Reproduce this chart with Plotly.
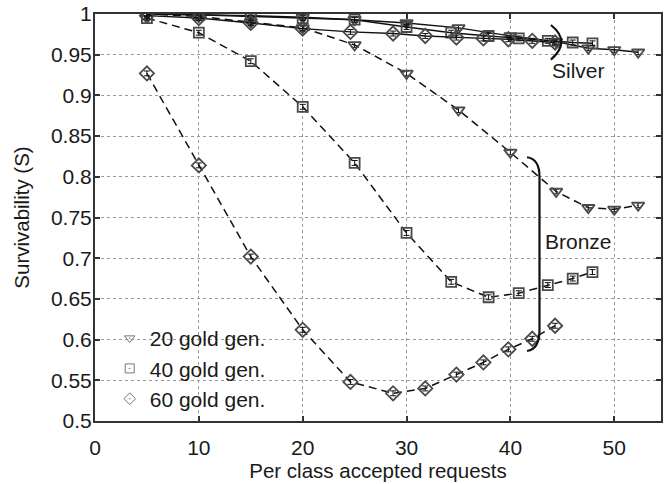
import plotly.graph_objects as go

# ---- data ----
x_20 = [5, 10, 15, 20, 25, 30, 35, 40, 44.4, 47.5, 50, 52.3]
bronze_20 = [1.0, 0.997, 0.99, 0.983, 0.962, 0.927, 0.882, 0.830, 0.782, 0.762, 0.760, 0.765]
silver_20 = [1.0, 0.999, 0.998, 0.996, 0.993, 0.989, 0.983, 0.973, 0.966, 0.958, 0.956, 0.953]

x_40 = [5, 10, 15, 20, 25, 30, 34.3, 37.9, 40.8, 43.6, 46, 47.9]
bronze_40 = [0.995, 0.977, 0.942, 0.886, 0.817, 0.731, 0.671, 0.652, 0.657, 0.667, 0.675, 0.683]
silver_40 = [1.0, 0.999, 0.997, 0.995, 0.993, 0.984, 0.977, 0.973, 0.970, 0.967, 0.965, 0.964]

x_60 = [5, 10, 15, 20, 24.6, 28.7, 31.8, 34.8, 37.4, 39.8, 42.1, 44.3]
bronze_60 = [0.927, 0.814, 0.702, 0.612, 0.548, 0.534, 0.540, 0.557, 0.572, 0.588, 0.601, 0.617]
silver_60 = [0.998, 0.995, 0.989, 0.982, 0.978, 0.976, 0.973, 0.971, 0.970, 0.969, 0.967, 0.965]

err = 0.003

series_names = ["20 gold gen.", "40 gold gen.", "60 gold gen."]
symbols = ["triangle-down-open", "square-open", "diamond-open"]
legend_symbols = ["triangle-down-open-dot", "square-open-dot", "diamond-open-dot"]

x_ticks = [0, 10, 20, 30, 40, 50]
y_ticks = [0.5, 0.55, 0.6, 0.65, 0.7, 0.75, 0.8, 0.85, 0.9, 0.95, 1.0]
y_tick_text = ["0.5", "0.55", "0.6", "0.65", "0.7", "0.75", "0.8", "0.85", "0.9", "0.95", "1"]

FONT = "Liberation Sans, Arial, sans-serif"
MK = "#4a4a4a"
TXT = "#1a1a1a"

fig = go.Figure()

xs = [x_20, x_40, x_60]
bronzes = [bronze_20, bronze_40, bronze_60]
silvers = [silver_20, silver_40, silver_60]
sizes = [11, 10, 11]

for i in range(3):
    # silver (solid)
    fig.add_trace(go.Scatter(
        x=xs[i], y=silvers[i], mode="lines+markers", showlegend=False,
        line=dict(color="#111111", width=1.4),
        marker=dict(symbol=symbols[i], size=sizes[i], color=MK, line=dict(width=1.8, color=MK)),
        error_y=dict(type="constant", value=err, color="#111111", thickness=1, width=3),
    ))
    # bronze (dashed)
    fig.add_trace(go.Scatter(
        x=xs[i], y=bronzes[i], mode="lines+markers", showlegend=False,
        line=dict(color="#111111", width=1.5, dash="8px,5px"),
        marker=dict(symbol=symbols[i], size=sizes[i], color=MK, line=dict(width=1.8, color=MK)),
        error_y=dict(type="constant", value=err, color="#111111", thickness=1, width=3),
    ))

for i in range(3):
    fig.add_trace(go.Scatter(
        x=[None], y=[None], mode="markers", name=series_names[i],
        marker=dict(symbol=legend_symbols[i], size=9, color="#777777", line=dict(width=1, color="#777777")),
    ))

# brackets
fig.add_shape(type="path", xref="x", yref="y",
              path="M 41.6,0.824 Q 42.8,0.822 42.8,0.800 L 42.8,0.612 Q 42.8,0.588 41.6,0.586",
              line=dict(color="#111111", width=2.2))
fig.add_shape(type="path", xref="x", yref="y",
              path="M 43.9,0.9865 Q 45.9,0.966 43.9,0.944",
              line=dict(color="#111111", width=2.2))

fig.add_annotation(x=46.6, y=0.930, xref="x", yref="y", text="Silver", showarrow=False,
                   font=dict(family=FONT, size=21, color=TXT))
fig.add_annotation(x=46.6, y=0.720, xref="x", yref="y", text="Bronze", showarrow=False,
                   font=dict(family=FONT, size=21, color=TXT))

axis_common = dict(
    showline=True, linecolor="#333333", linewidth=2, mirror="ticks",
    ticks="inside", ticklen=5, tickcolor="#333333", tickwidth=1.5,
    showgrid=True, gridcolor="#9a9a9a", griddash="dot", gridwidth=1,
    zeroline=False,
    tickfont=dict(family=FONT, size=21, color=TXT),
)

fig.update_layout(
    width=665, height=484,
    margin=dict(l=95, r=2, t=14, b=63),
    paper_bgcolor="white", plot_bgcolor="white",
    font=dict(family=FONT, size=21, color=TXT),
    xaxis=dict(range=[0, 54.5], tickvals=x_ticks, ticklabelstandoff=7,
               title=dict(text="Per class accepted requests", font=dict(family=FONT, size=20.5, color=TXT), standoff=0),
               **axis_common),
    yaxis=dict(range=[0.5, 1.0], tickvals=y_ticks, ticktext=y_tick_text, ticklabelstandoff=-3,
               title=dict(text="Survivability (S)", font=dict(family=FONT, size=20.5, color=TXT), standoff=16),
               **axis_common),
    legend=dict(x=0.026, y=0.005, xanchor="left", yanchor="bottom",
                bgcolor="rgba(0,0,0,0)", font=dict(family=FONT, size=21, color=TXT),
                itemwidth=30),
)

fig.write_html("out.html")
